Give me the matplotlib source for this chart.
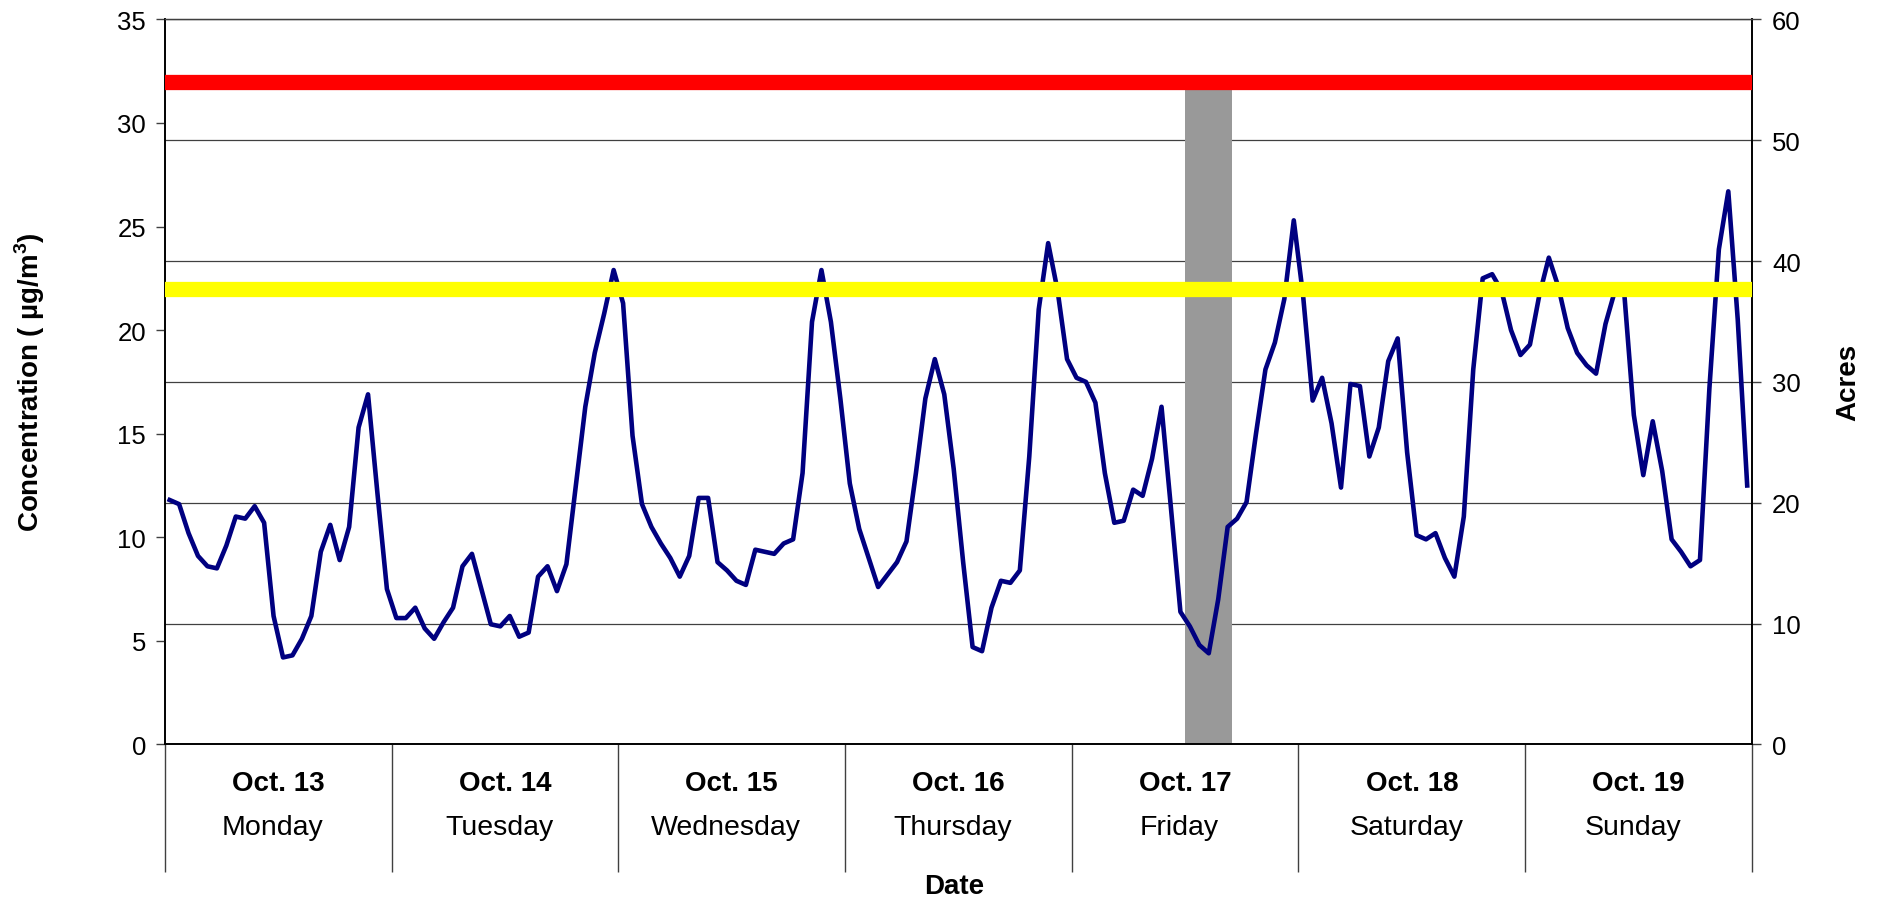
import numpy as np
import matplotlib
matplotlib.use("Agg")
import matplotlib.pyplot as plt
from matplotlib import transforms

plt.rcParams["font.family"] = ["Liberation Sans", "DejaVu Sans"]
plt.rcParams["mathtext.fontset"] = "custom"
plt.rcParams["mathtext.rm"] = "Liberation Sans"
plt.rcParams["mathtext.bf"] = "Liberation Sans:bold"

# hourly concentration, Oct 13 00:00 .. Oct 19 23:00 (ug/m3)
conc = [
    11.8, 11.6, 10.2, 9.1, 8.6, 8.5, 9.6, 11.0, 10.9, 11.5, 10.7, 6.2,
    4.2, 4.3, 5.1, 6.2, 9.3, 10.6, 8.9, 10.5, 15.3, 16.9, 12.1, 7.5,
    6.1, 6.1, 6.6, 5.6, 5.1, 5.9, 6.6, 8.6, 9.2, 7.5, 5.8, 5.7,
    6.2, 5.2, 5.4, 8.1, 8.6, 7.4, 8.7, 12.5, 16.3, 18.9, 20.8, 22.9,
    21.3, 14.9, 11.6, 10.5, 9.7, 9.0, 8.1, 9.1, 11.9, 11.9, 8.8, 8.4,
    7.9, 7.7, 9.4, 9.3, 9.2, 9.7, 9.9, 13.1, 20.4, 22.9, 20.4, 16.7,
    12.6, 10.4, 9.0, 7.6, 8.2, 8.8, 9.8, 13.1, 16.7, 18.6, 16.9, 13.3,
    8.8, 4.7, 4.5, 6.6, 7.9, 7.8, 8.4, 13.9, 21.0, 24.2, 21.9, 18.6,
    17.7, 17.5, 16.5, 13.1, 10.7, 10.8, 12.3, 12.0, 13.8, 16.3, 11.4, 6.4,
    5.7, 4.8, 4.4, 7.0, 10.5, 10.9, 11.7, 15.0, 18.1, 19.4, 21.5, 25.3,
    21.6, 16.6, 17.7, 15.5, 12.4, 17.4, 17.3, 13.9, 15.3, 18.5, 19.6, 14.1,
    10.1, 9.9, 10.2, 9.0, 8.1, 11.0, 18.1, 22.5, 22.7, 21.9, 20.0, 18.8,
    19.3, 21.7, 23.5, 22.1, 20.1, 18.9, 18.3, 17.9, 20.3, 21.9, 21.7, 15.9,
    13.0, 15.6, 13.2, 9.9, 9.3, 8.6, 8.9, 17.2, 23.9, 26.7, 20.5, 12.5,
]

# burned acres (secondary axis), Friday afternoon
burn_hours = [108, 109, 110, 111, 112]
burn_acres = [55, 55, 55, 55, 55]

red_level = 32.0
yellow_level = 22.0

dates = ["Oct. 13", "Oct. 14", "Oct. 15", "Oct. 16", "Oct. 17", "Oct. 18", "Oct. 19"]
weekdays = ["Monday", "Tuesday", "Wednesday", "Thursday", "Friday", "Saturday", "Sunday"]

n = len(conc)
hrs = np.arange(n) + 0.5

fig = plt.figure(figsize=(18.85, 9.03), dpi=100)
ax2 = fig.add_axes([0.0875, 0.1745, 0.8419, 0.8029])
ax = ax2.twinx()
# concentration axis on the left, acres on the right
ax.yaxis.tick_left()
ax.yaxis.set_label_position("left")
ax2.yaxis.tick_right()
ax2.yaxis.set_label_position("right")
ax.set_zorder(ax2.get_zorder() + 1)
ax.patch.set_visible(False)

# acres: grid + bars
ax2.set_ylim(0, 60)
ax2.set_yticks(np.arange(0, 61, 10))
ax2.grid(axis="y", color="#404040", lw=0.9, zorder=0)
ax2.set_axisbelow(True)
ax2.bar(np.array(burn_hours) + 0.5, burn_acres, width=1.0, color="#999999",
        edgecolor="none", zorder=2)

# concentration
ax.plot(hrs, conc, color="#000080", lw=3.3, zorder=3)
ax.axhline(red_level, color="#ff0000", lw=11, zorder=4)
ax.axhline(yellow_level, color="#ffff00", lw=11, zorder=4)
ax.set_ylim(0, 35)
ax.set_yticks(np.arange(0, 36, 5))

ax2.set_xlim(0, n)
ax2.set_xticks(np.arange(0, n + 1, 24))
ax2.set_xticklabels([])
for a in (ax, ax2):
    for s in a.spines.values():
        s.set_color("black")
        s.set_linewidth(1.2)
    a.spines["top"].set_color("#404040")
    a.spines["top"].set_linewidth(0.9)
# day dividers run down through the category labels
ax2.tick_params(axis="x", length=92, width=1.0, color="#404040")
ax.tick_params(axis="y", length=6.5, width=1.0, color="#404040", labelsize=18.5, pad=7)
ax2.tick_params(axis="y", length=6.5, width=1.0, color="#404040", labelsize=18.5, pad=8)

tr = transforms.blended_transform_factory(ax2.transData, ax2.transAxes)
for k, (d, w) in enumerate(zip(dates, weekdays)):
    xc = 24 * k + 12
    ax.text(xc, -0.053, d, transform=tr, ha="center", va="center",
            fontsize=20, fontweight="bold", clip_on=False)
    ax.text(xc - 0.6, -0.114, w, transform=tr, ha="center", va="center",
            fontsize=20.5, clip_on=False)

fig.text(0.016, 0.5765, r"Concentration ( µg/m$^{\mathbf{3}}$)", rotation=90,
         ha="center", va="center", fontsize=20, fontweight="bold")
fig.text(0.9804, 0.5765, "Acres", rotation=90, ha="center", va="center",
         fontsize=20, fontweight="bold")
fig.text(0.506, 0.018, "Date", ha="center", va="center", fontsize=20,
         fontweight="bold")

fig.savefig("out.png", dpi=100)
